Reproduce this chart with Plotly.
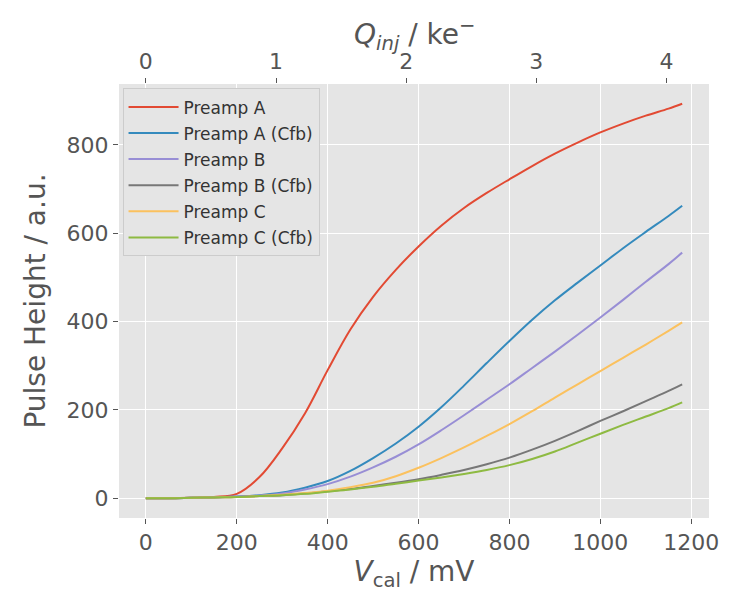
import plotly.graph_objects as go

# Calibration voltage (mV)
v_cal = [0, 50, 100, 150, 200, 250, 300, 350, 400, 450, 500, 550, 600, 650,
         700, 750, 800, 850, 900, 950, 1000, 1050, 1100, 1150, 1180]

preamp_a = [0, 0, 1, 3, 10, 48, 113, 192, 290, 382, 456, 517, 570, 617,
            657, 691, 722, 752, 780, 805, 828, 848, 866, 882, 893]
preamp_a_cfb = [0, 0, 1, 2, 4, 7, 13, 24, 39, 62, 91, 124, 162, 206,
                255, 306, 356, 404, 448, 488, 527, 566, 603, 639, 662]
preamp_b = [0, 0, 1, 2, 4, 6, 11, 20, 32, 49, 70, 94, 122, 154,
            188, 223, 258, 295, 332, 370, 409, 449, 490, 530, 556]
preamp_b_cfb = [0, 0, 1, 2, 3, 5, 7, 11, 16, 21, 28, 35, 43, 53,
                64, 77, 92, 110, 130, 152, 175, 197, 220, 243, 258]
preamp_c = [0, 0, 1, 2, 3, 5, 8, 12, 17, 25, 35, 50, 69, 91,
            115, 141, 168, 197, 228, 258, 288, 318, 348, 379, 398]
preamp_c_cfb = [0, 0, 1, 2, 3, 5, 7, 10, 15, 20, 26, 33, 40, 47,
                55, 64, 75, 89, 106, 126, 146, 166, 185, 204, 217]

series_names = ["Preamp A", "Preamp A (Cfb)", "Preamp B", "Preamp B (Cfb)",
                "Preamp C", "Preamp C (Cfb)"]
series_values = [preamp_a, preamp_a_cfb, preamp_b, preamp_b_cfb, preamp_c, preamp_c_cfb]
colors = ["#E24A33", "#348ABD", "#988ED5", "#777777", "#FBC15E", "#8EBA42"]

x_ticks = [0, 200, 400, 600, 800, 1000, 1200]
y_ticks = [0, 200, 400, 600, 800]
q_ticks = [0, 1, 2, 3, 4]
MV_PER_KE = 286.4  # conversion V_cal (mV) -> Q_inj (ke-)

x_min, x_max = -59, 1239
y_min, y_max = -44.65, 937.65

fig = go.Figure()
for i, (name, vals, col) in enumerate(zip(series_names, series_values, colors)):
    fig.add_trace(go.Scatter(
        x=v_cal, y=vals, mode="lines", name=name,
        line=dict(color=col, width=2, shape="spline", smoothing=1.0),
        legendgroup=f"g{i}",
    ))

# invisible trace to carry the top axis
fig.add_trace(go.Scatter(x=[x_min / MV_PER_KE, x_max / MV_PER_KE], y=[None, None],
                         xaxis="x2", yaxis="y", mode="lines", showlegend=False,
                         hoverinfo="skip"))

tick_font = dict(family="DejaVu Sans", size=22, color="#555555")
title_font = dict(family="DejaVu Sans", size=28, color="#555555")

fig.update_layout(
    width=731, height=592,
    margin=dict(l=119, r=14, t=84, b=74),
    paper_bgcolor="white",
    plot_bgcolor="#E5E5E5",
    showlegend=True,
    legend=dict(
        x=0.006, y=0.99, xanchor="left", yanchor="top",
        bgcolor="#E5E5E5", bordercolor="#CCCCCC", borderwidth=1,
        font=dict(family="DejaVu Sans", size=17, color="#333333"),
        tracegroupgap=1, itemwidth=50,
    ),
    xaxis=dict(
        range=[x_min, x_max], tickvals=x_ticks, ticktext=[str(t) for t in x_ticks],
        showgrid=True, gridcolor="white", gridwidth=1.3, zeroline=False,
        ticks="outside", ticklen=5, tickcolor="#555555", tickwidth=1,
        tickfont=tick_font, showline=False,
        title=dict(text="<i>V</i><sub>cal</sub> / mV", font=title_font, standoff=4),
    ),
    xaxis2=dict(
        range=[x_min / MV_PER_KE, x_max / MV_PER_KE], overlaying="x", side="top",
        anchor="y", tickvals=q_ticks, ticktext=[str(t) for t in q_ticks],
        showgrid=False, zeroline=False,
        ticks="outside", ticklen=5, tickcolor="#555555", tickwidth=1,
        tickfont=tick_font, showline=False,
    ),
    yaxis=dict(
        range=[y_min, y_max], tickvals=y_ticks, ticktext=[str(t) for t in y_ticks],
        showgrid=True, gridcolor="white", gridwidth=1.3, zeroline=False,
        ticks="outside", ticklen=5, tickcolor="#555555", tickwidth=1,
        tickfont=tick_font, showline=False,
        title=dict(text="Pulse Height / a.u.", font=title_font, standoff=12),
    ),
    annotations=[dict(
        text="<i>Q<sub>inj</sub></i> / ke<sup>−</sup>", font=title_font,
        xref="paper", yref="paper", x=0.5, y=1.113, xanchor="center", yanchor="middle",
        showarrow=False,
    )],
)

fig.write_html("out.html")
